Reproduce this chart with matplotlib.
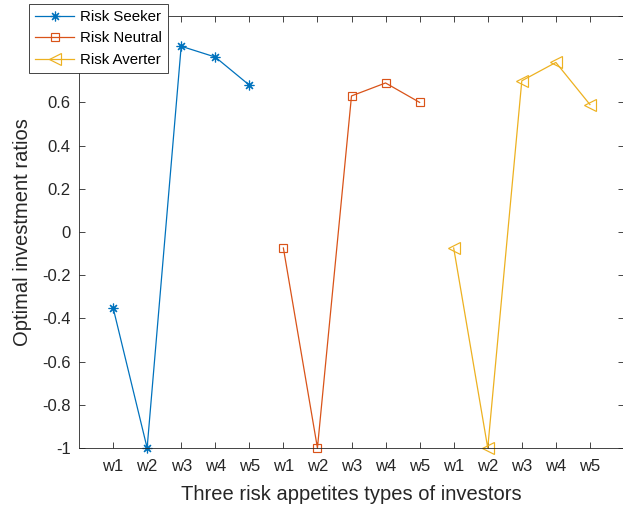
import numpy as np
import matplotlib
matplotlib.use("Agg")
import matplotlib.pyplot as plt
from matplotlib.ticker import FuncFormatter

plt.rcParams['font.family'] = ['Liberation Sans', 'DejaVu Sans']

# weights w1..w5 for each investor type
weight_labels = ["w1", "w2", "w3", "w4", "w5"]
risk_seeker = [-0.35, -1.0, 0.86, 0.81, 0.68]
risk_neutral = [-0.074, -1.0, 0.63, 0.69, 0.60]
risk_averter = [-0.074, -1.0, 0.70, 0.785, 0.59]

# name, values, colour, marker, marker size
series = [
    ("Risk Seeker", risk_seeker, "#0072BD", (8, 2, 0), 7),
    ("Risk Neutral", risk_neutral, "#D95319", "s", 6),
    ("Risk Averter", risk_averter, "#EDB120", "<", 8.5),
]

fig = plt.figure(figsize=(6.23, 5.11), dpi=100)
ax = fig.add_axes([79 / 623, 63 / 511, 545 / 623, 432 / 511])

n = len(weight_labels)
lines = []
for i, (name, vals, col, mk, ms) in enumerate(series):
    xs = np.arange(1, n + 1) + i * n
    ln, = ax.plot(xs, vals, color=col, lw=0.9, marker=mk, markersize=ms,
                  markerfacecolor="none", markeredgecolor=col,
                  markeredgewidth=0.85, label=name)
    lines.append(ln)

ax.set_xlim(0, 3 * n + 1)
ax.set_ylim(-1, 1)
ax.set_xticks(np.arange(1, 3 * n + 1))
ax.set_xticklabels(weight_labels * 3)
ax.set_yticks(np.round(np.arange(-1, 1.01, 0.2), 1))
ax.yaxis.set_major_formatter(FuncFormatter(lambda v, p: f"{round(v, 1) + 0:g}"))

ax.tick_params(direction="in", top=True, right=True, length=4, width=0.6,
               colors="#262626", labelsize=12)
ax.tick_params(axis="x", pad=8)
ax.tick_params(axis="y", pad=6)
for s in ax.spines.values():
    s.set_linewidth(0.6)
    s.set_color("#262626")

ax.set_xlabel("Three risk appetites types of investors", fontsize=14.5,
              color="#262626", labelpad=8)
ax.set_ylabel("Optimal investment ratios", fontsize=14.5, color="#262626",
              labelpad=7)

leg = ax.legend(loc="upper left", bbox_to_anchor=(29 / 623, 1 - 4 / 511),
                bbox_transform=fig.transFigure, fontsize=10.8, frameon=True,
                fancybox=False, edgecolor="#262626", framealpha=1,
                borderaxespad=0, handlelength=2.6, handletextpad=0.4,
                borderpad=0.4, labelspacing=0.5)
leg.get_frame().set_linewidth(0.6)
leg.set_zorder(10)

# markers sitting on y=-1 should not be cut by the axes edge
for ln in lines:
    ln.set_clip_on(False)

fig.savefig("out.png", dpi=100)
